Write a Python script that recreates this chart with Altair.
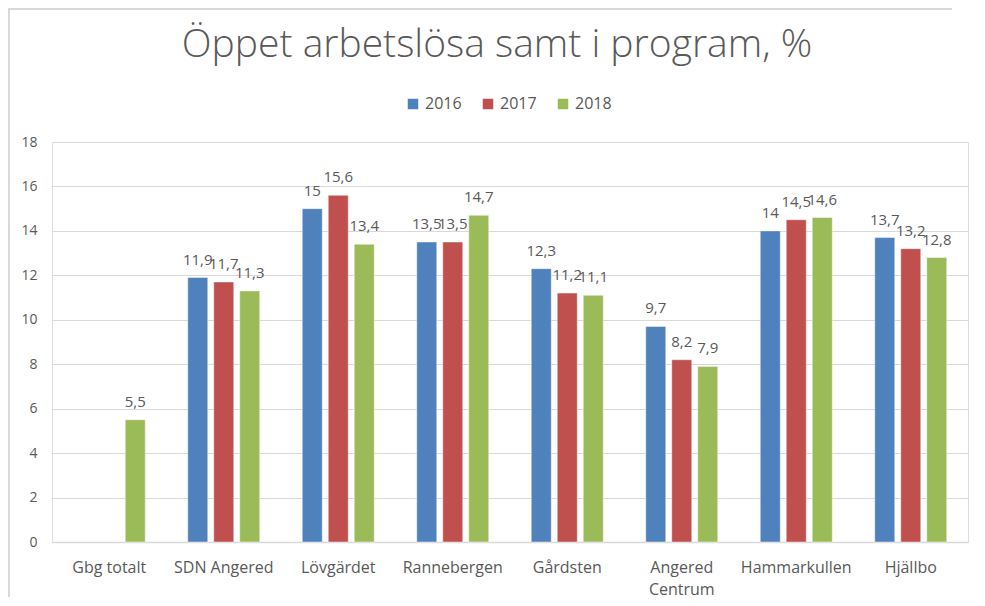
import altair as alt
import pandas as pd

categories = ["Gbg totalt", "SDN Angered", "Lövgärdet", "Rannebergen",
              "Gårdsten", "Angered Centrum", "Hammarkullen", "Hjällbo"]
years = ["2016", "2017", "2018"]
v2016 = [None, 11.9, 15.0, 13.5, 12.3, 9.7, 14.0, 13.7]
v2017 = [None, 11.7, 15.6, 13.5, 11.2, 8.2, 14.5, 13.2]
v2018 = [5.5, 11.3, 13.4, 14.7, 11.1, 7.9, 14.6, 12.8]
colors = ["#4F81BD", "#C0504D", "#9BBB59"]

rows = []
for yr, vals in zip(years, [v2016, v2017, v2018]):
    for c, v in zip(categories, vals):
        if v is not None:
            rows.append({"Område": c, "År": yr, "Värde": v,
                         "Etikett": (f"{v:g}").replace(".", ",")})
df = pd.DataFrame(rows)

FONT = "Open Sans"
GRAY = "#595959"

x = alt.X("Område:N", sort=categories, title=None,
          scale=alt.Scale(paddingInner=0.319, paddingOuter=0.1595),
          axis=alt.Axis(labelAngle=0, labelFont=FONT, labelFontSize=16,
                        labelColor=GRAY, labelPadding=17, ticks=False,
                        labelLineHeight=22,
                        domainColor="#D9D9D9", domainWidth=1.5,
                        labelExpr="datum.label == 'Angered Centrum' ? ['Angered', 'Centrum'] : datum.label"))
xoff = alt.XOffset("År:N", sort=years,
                   scale=alt.Scale(paddingInner=0.23, paddingOuter=0.115))
y = alt.Y("Värde:Q", title=None,
          scale=alt.Scale(domain=[0, 18], nice=False),
          axis=alt.Axis(values=list(range(0, 19, 2)), labelFont=FONT,
                        labelFontSize=14, labelColor=GRAY, labelPadding=15,
                        ticks=False, domain=False, gridColor="#D9D9D9",
                        gridWidth=1))

color = alt.Color("År:N", sort=years,
                  scale=alt.Scale(domain=years, range=colors),
                  legend=alt.Legend(title=None, orient="none", direction="horizontal",
                                    legendX=353, legendY=-46, symbolType="square",
                                    symbolSize=110, symbolStrokeWidth=0,
                                    labelFont=FONT, labelFontSize=16, labelColor=GRAY,
                                    labelOffset=4, columnPadding=18, padding=0))

base = alt.Chart(df)
bars = base.mark_bar(stroke="white", strokeOpacity=0.45, strokeWidth=1).encode(
    x=x, xOffset=xoff, y=y, color=color)
labels = base.mark_text(font=FONT, fontSize=15, color=GRAY, baseline="alphabetic",
                        dy=-13).encode(x=x, xOffset=xoff, y=y, text="Etikett:N")

one = alt.Data(values=[{}])
frame_left = alt.Chart(one).mark_rule(color="#D9D9D9", strokeWidth=2).encode(
    x=alt.value(-43), y=alt.value(-134), y2=alt.value(455))
frame_top = alt.Chart(one).mark_rect(fill="#D9D9D9", strokeWidth=0).encode(
    x=alt.value(-44), x2=alt.value(900), y=alt.value(-134), y2=alt.value(-132))

chart = (frame_left + frame_top + bars + labels).properties(
    width=916, height=400,
    title=alt.TitleParams("Öppet arbetslösa samt i program, %", font=FONT,
                          fontSize=39, fontWeight=300, color=GRAY, anchor="middle",
                          dx=-13, offset=-58),
    autosize=alt.AutoSizeParams(type="none"),
    padding={"left": 44, "top": 134, "right": 9, "bottom": 56},
).configure_view(stroke="transparent", strokeWidth=0).configure(background="white")

chart.save("out.html", embed_options={"renderer": "svg", "actions": False})
